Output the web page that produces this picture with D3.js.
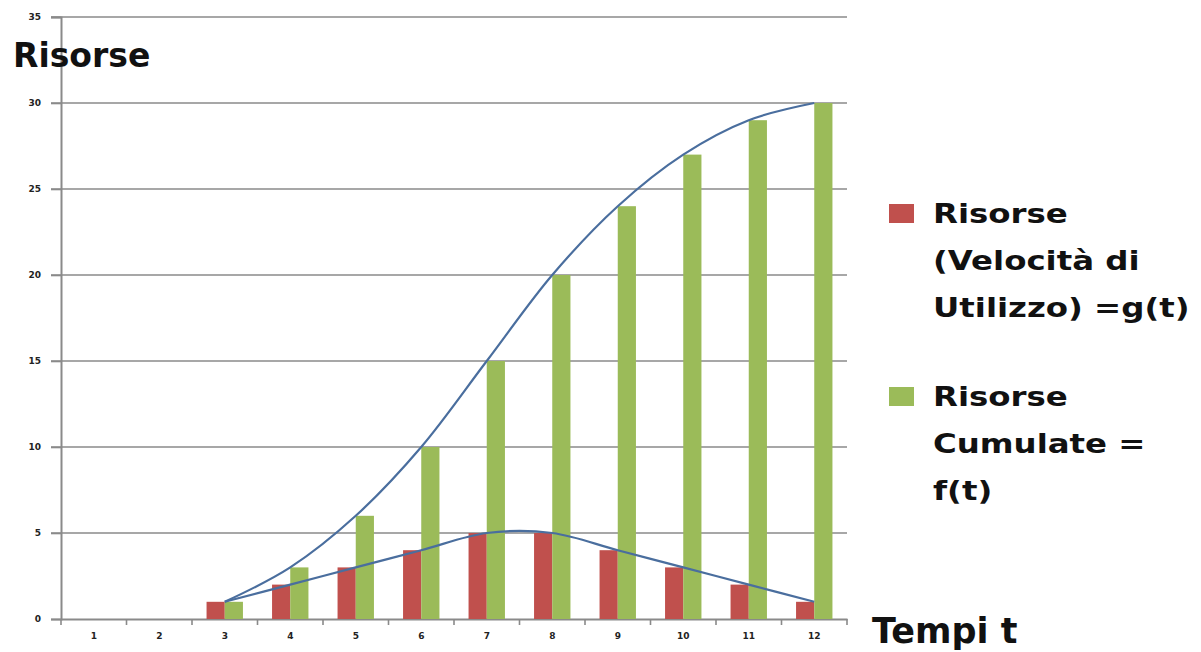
<!DOCTYPE html>
<html><head><meta charset="utf-8">
<script src="https://cdn.jsdelivr.net/npm/d3@7"></script>
<style>
html,body{margin:0;padding:0;background:#fff;}
svg{display:block;}
text{font-family:"DejaVu Sans",Verdana,sans-serif;}
</style></head>
<body>
<svg id="chart" width="1201" height="652"></svg>
<script>
const categories = ["1","2","3","4","5","6","7","8","9","10","11","12"];
const velocita = [0,0,1,2,3,4,5,5,4,3,2,1];
const cumulate = [0,0,1,3,6,10,15,20,24,27,29,30];
const yTicks = [0,5,10,15,20,25,30,35];
const seriesNames = [["Risorse","(Velocità di","Utilizzo) =g(t)"],["Risorse","Cumulate =","f(t)"]];
const colors = ["#C0504D","#9BBB59"];
const lineColor = "#4A6E9E";

(function(){
const svg = d3.select("#chart");
const mLeft = 61, mRight = 847, mTop = 17, mBottom = 619;

const x = d3.scaleBand().domain(categories).range([mLeft, mRight]).paddingInner(0).paddingOuter(0);
const y = d3.scaleLinear().domain([0,35]).range([mBottom, mTop]);
const inner = d3.scaleBand().domain([0,1]).range([0, x.bandwidth()]).paddingInner(0).paddingOuter(0.8);

// gridlines
svg.append("g").selectAll("line").data(yTicks.filter(d=>d>0)).join("line")
  .attr("x1", mLeft-10).attr("x2", mRight)
  .attr("y1", d=>y(d)).attr("y2", d=>y(d))
  .attr("stroke","#8a8a8a").attr("stroke-width",1.6);

// y axis
const yAxis = d3.axisLeft(y).tickValues(yTicks).tickSize(10).tickPadding(10);
const gy = svg.append("g").attr("transform",`translate(${mLeft},0)`).call(yAxis);
gy.select(".domain").attr("stroke","#8a8a8a").attr("stroke-width",2);
gy.selectAll(".tick line").attr("stroke","#8a8a8a").attr("stroke-width",1.6);
gy.selectAll(".tick text").attr("font-size",9).attr("font-weight","bold").attr("fill","#222");

// x axis
const xAxis = d3.axisBottom(x).tickSize(0).tickPadding(14);
const gx = svg.append("g").attr("transform",`translate(0,${mBottom})`).call(xAxis);
gx.select(".domain").attr("stroke","#8a8a8a").attr("stroke-width",2);
gx.selectAll(".tick text").attr("font-size",9).attr("font-weight","bold").attr("fill","#222");
gx.append("g").selectAll("line").data(categories).join("line")
  .attr("x1", d=>x(d)+x.bandwidth()).attr("x2", d=>x(d)+x.bandwidth())
  .attr("y1",0).attr("y2",6).attr("stroke","#8a8a8a").attr("stroke-width",1.6);
gx.append("line").attr("x1",mLeft).attr("x2",mLeft).attr("y1",0).attr("y2",6)
  .attr("stroke","#8a8a8a").attr("stroke-width",1.6);

// bars
const series = [velocita, cumulate];
series.forEach((vals, si) => {
  svg.append("g").selectAll("rect").data(vals.map((v,i)=>({c:categories[i],v}))).join("rect")
    .attr("x", d=>x(d.c)+inner(si))
    .attr("width", inner.bandwidth())
    .attr("y", d=>y(d.v))
    .attr("height", d=>y(0)-y(d.v))
    .attr("fill", colors[si]);
});

// smooth lines
const line = d3.line()
  .x(d=>x(d.c)+x.bandwidth()/2)
  .y(d=>y(d.v))
  .curve(d3.curveCatmullRom.alpha(0.5));
series.forEach(vals => {
  const pts = vals.map((v,i)=>({c:categories[i],v})).filter(d=>d.v>0);
  svg.append("path").datum(pts).attr("d", line)
    .attr("fill","none").attr("stroke",lineColor).attr("stroke-width",2.2);
});

// titles
svg.append("text").attr("x",13).attr("y",67).attr("font-size",33).attr("font-weight","bold")
  .attr("fill","#111").text("Risorse");
svg.append("text").attr("x",872).attr("y",643).attr("font-size",35).attr("font-weight","bold")
  .attr("fill","#111").text("Tempi t");

// legend
const legendTops = [204, 387];
seriesNames.forEach((lines, si) => {
  const g = svg.append("g").attr("transform",`translate(889,${legendTops[si]})`);
  g.append("rect").attr("x",0).attr("y",0).attr("width",25).attr("height",19).attr("fill",colors[si]);
  const t = g.append("g").attr("transform","translate(44,19) scale(1.2,1)");
  lines.forEach((s, li) => {
    t.append("text").attr("x",0).attr("y", li*47).attr("font-size",27).attr("font-weight","bold")
      .attr("fill","#111").text(s);
  });
});
})();
</script>
</body></html>
